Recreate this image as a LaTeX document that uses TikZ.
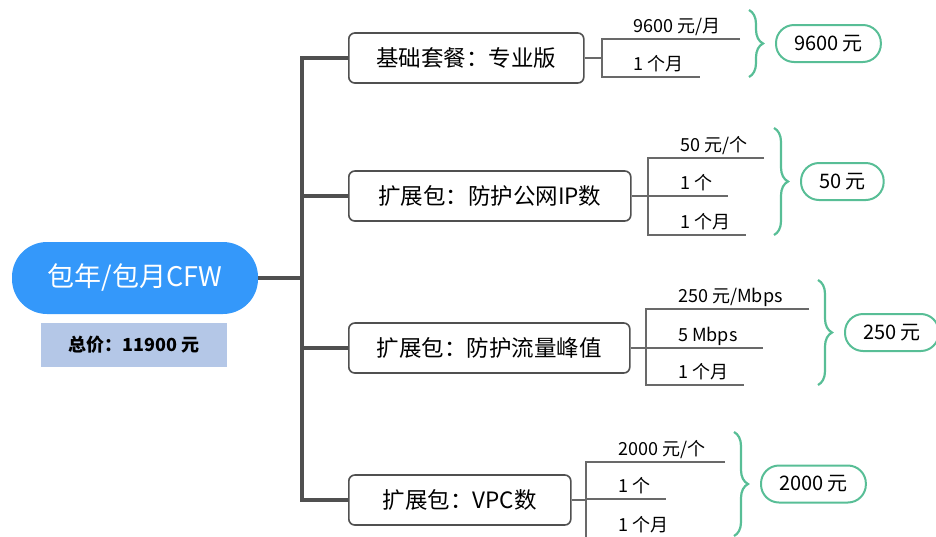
\documentclass[tikz,border=0pt]{standalone}
\usepackage{fontspec}
\setmainfont{Noto Sans CJK SC}
\usetikzlibrary{positioning,calc,decorations.pathreplacing}

\definecolor{rootblue}{RGB}{52,152,250}
\definecolor{sumblue}{RGB}{180,199,231}
\definecolor{mint}{RGB}{88,190,150}
\definecolor{trunkgray}{RGB}{80,80,80}
\definecolor{linegray}{RGB}{105,105,105}

\tikzset{
  root/.style={fill=rootblue, text=white, rounded corners=35pt, minimum width=246pt, minimum height=72pt, font=\fontsize{27}{27}\selectfont},
  total/.style={fill=sumblue, minimum width=186pt, minimum height=44pt, font=\fontsize{18}{18}\selectfont\bfseries},
  pkg/.style={draw=trunkgray, line width=1.6pt, rounded corners=6pt, fill=white, minimum height=50pt, inner xsep=20pt, anchor=west, font=\fontsize{22.5}{22.5}\selectfont},
  item/.style={anchor=base west, inner sep=0pt, font=\fontsize{18}{18}\selectfont},
  price/.style={draw=mint, line width=2pt, rounded corners=18pt, minimum height=37pt, inner xsep=18pt, font=\fontsize{20}{20}\selectfont},
  trunk/.style={draw=trunkgray, line width=4pt},
  twig/.style={draw=linegray, line width=1.2pt},
  curly/.style={draw=mint, line width=2.2pt, decorate, decoration={brace, amplitude=14pt}},
}

\begin{document}
\begin{tikzpicture}[x=1pt, y=-1pt]
\useasboundingbox (0,0) rectangle (936,536);

\node[root] (cfw) at (135,278) {包年/包月CFW};
\node[total] (sum) at (134,345) {总价：11900 元};

% packages
\node[pkg, minimum width=235pt] (base) at (348,58) {基础套餐：专业版};
\node[pkg, minimum width=282pt] (ip) at (348,196) {扩展包：防护公网IP数};
\node[pkg, minimum width=281pt] (bw) at (348,348) {扩展包：防护流量峰值};
\node[pkg, minimum width=222pt] (vpc) at (348,500) {扩展包：VPC数};

\coordinate (hub) at (302,278);
\draw[trunk] (cfw.east) -- (hub);
\draw[trunk] (base.west) -| (hub) |- (vpc.west);
\draw[trunk] (hub |- ip.west) -- (ip.west);
\draw[trunk] (hub |- bw.west) -- (bw.west);

% base
\coordinate (j1) at (602,58);
\coordinate (e1a) at (740,39);
\coordinate (e1b) at (700,77);
\draw[twig] (base.east) -- (j1);
\draw[twig] (e1a) -- (j1 |- e1a) -- (j1 |- e1b) -- (e1b);
\node[item] (t1a) at ($(j1 |- e1a)+(31,-7)$) {9600 元/月};
\node[item] (t1b) at ($(j1 |- e1b)+(31,-7)$) {1 个月};
\draw[curly] (749,10) -- (749,77);
\coordinate (k1) at (763,43.5);
\node[price, right=12pt of k1] (p1) {9600 元};

% ip
\coordinate (j2) at (648,196);
\coordinate (e2a) at (764,158);
\coordinate (e2b) at (728,196);
\coordinate (e2c) at (746,235);
\draw[twig] (ip.east) -- (j2);
\draw[twig] (e2a) -- (j2 |- e2a) -- (j2 |- e2c) -- (e2c);
\draw[twig] (j2 |- e2b) -- (e2b);
\node[item] (t2a) at ($(j2 |- e2a)+(32,-7)$) {50 元/个};
\node[item] (t2b) at ($(j2 |- e2b)+(32,-7)$) {1 个};
\node[item] (t2c) at ($(j2 |- e2c)+(32,-7)$) {1 个月};
\draw[curly] (774,128) -- (774,235);
\coordinate (k2) at (788,181.5);
\node[price, right=12pt of k2] (p2) {50 元};

% bw
\coordinate (j3) at (646,348);
\coordinate (e3a) at (809,309);
\coordinate (e3b) at (763,348);
\coordinate (e3c) at (744,385);
\draw[twig] (bw.east) -- (j3);
\draw[twig] (e3a) -- (j3 |- e3a) -- (j3 |- e3c) -- (e3c);
\draw[twig] (j3 |- e3b) -- (e3b);
\node[item] (t3a) at ($(j3 |- e3a)+(32,-7)$) {250 元/Mbps};
\node[item] (t3b) at ($(j3 |- e3b)+(32,-7)$) {5 Mbps};
\node[item] (t3c) at ($(j3 |- e3c)+(32,-7)$) {1 个月};
\draw[curly] (818,280) -- (818,385);
\coordinate (k3) at (832,332.5);
\node[price, right=12pt of k3] (p3) {250 元};

% vpc
\coordinate (j4) at (586,500);
\coordinate (e4a) at (725,462);
\coordinate (e4b) at (666,499);
\coordinate (e4c) at (690,538);
\draw[twig] (vpc.east) -- (j4);
\draw[twig] (e4a) -- (j4 |- e4a) -- (j4 |- e4c) -- (e4c);
\draw[twig] (j4 |- e4b) -- (e4b);
\node[item] (t4a) at ($(j4 |- e4a)+(32,-7)$) {2000 元/个};
\node[item] (t4b) at ($(j4 |- e4b)+(32,-7)$) {1 个};
\node[item] (t4c) at ($(j4 |- e4c)+(32,-7)$) {1 个月};
\draw[curly] (734,432) -- (734,536);
\coordinate (k4) at (748,484);
\node[price, right=12pt of k4] (p4) {2000 元};
\end{tikzpicture}
\end{document}
